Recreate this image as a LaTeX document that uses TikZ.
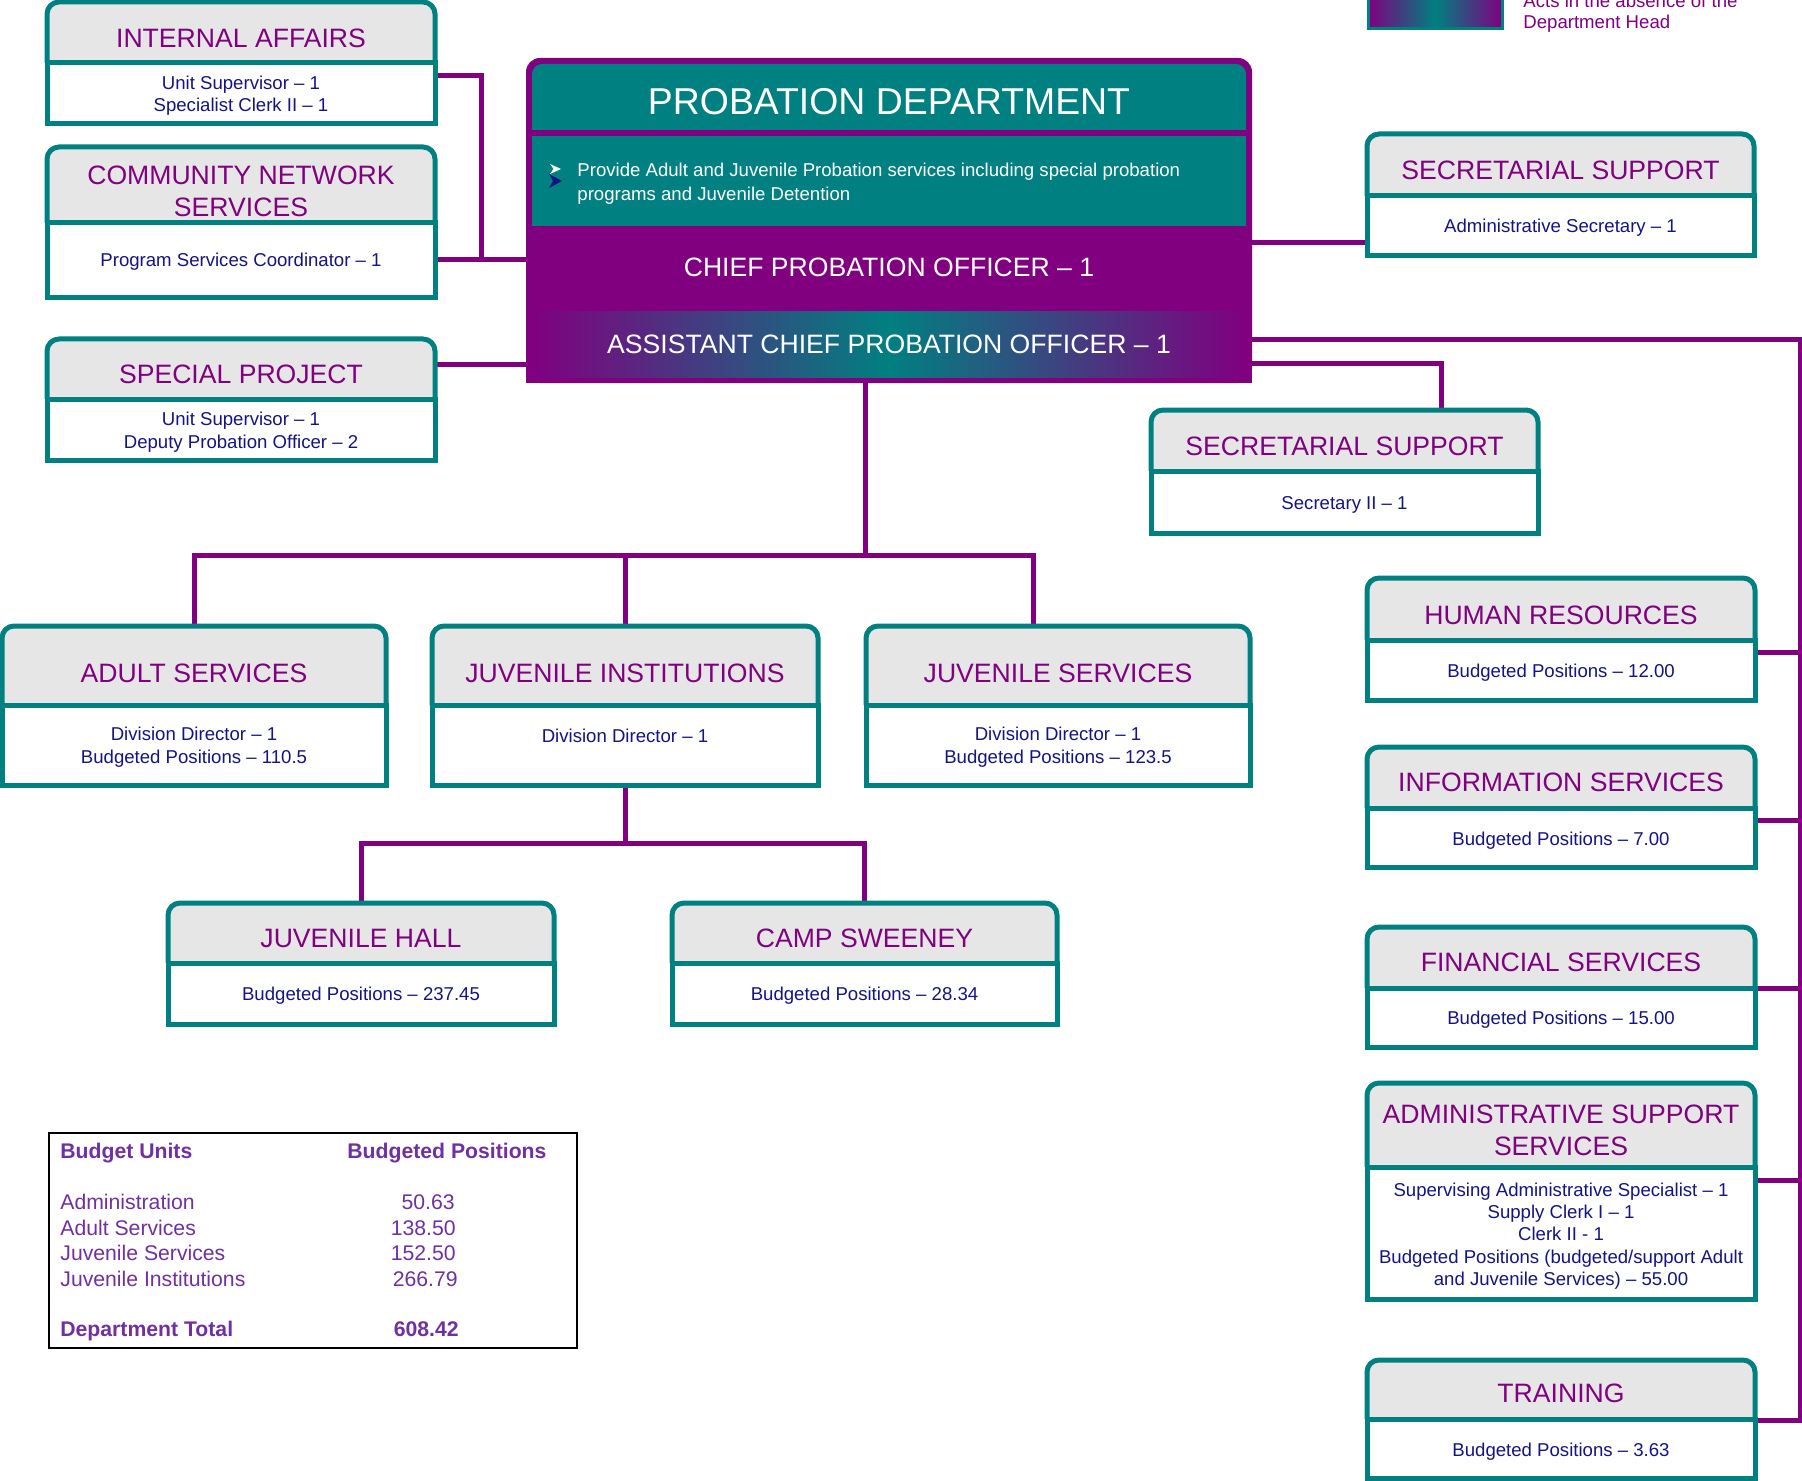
\documentclass[tikz,border=0pt]{standalone}
\usepackage{fontspec}
\setmainfont{Liberation Sans}
\usetikzlibrary{fit,backgrounds}
\definecolor{purp}{HTML}{800080}
\definecolor{tealc}{HTML}{008080}
\definecolor{hdr}{HTML}{E6E6E6}
\definecolor{navyt}{RGB}{20,20,130}
\definecolor{tblp}{HTML}{7030A0}
\tikzset{
  boxline/.style={draw=tealc, line width=2.5pt},
  conn/.style={draw=purp, line width=2.5pt},
  htext/.style={font=\fontsize{13.3}{16}\selectfont, text=purp, align=center, inner sep=0pt},
  btext/.style={font=\fontsize{9.3}{11.2}\selectfont, text=navyt, align=center, inner sep=0pt, yshift=-1.3pt},
  wtext/.style={text=white, inner sep=0pt, align=center},
  ttext/.style={font=\fontsize{10.6}{12.8}\selectfont, text=tblp, inner sep=0pt},
  tbold/.style={ttext, font=\fontsize{10.6}{12.8}\selectfont\bfseries},
  fitbox/.style={inner sep=0pt},
}
% #1 name, #2 x1, #3 x2, #4 ytop, #5 ydiv, #6 ybot
\newcommand{\obox}[6]{%
  \fill[white] (#2,#5) rectangle (#3,#6);
  \fill[hdr, rounded corners=6pt] (#2,#4) rectangle (#3,#5);
  \fill[hdr] (#2,#4+16) rectangle (#3,#5);
  \draw[boxline, rounded corners=6pt] (#2,#5) -- (#2,#4) -- (#3,#4) -- (#3,#5);
  \draw[boxline] (#2,#5) -- (#2,#6) -- (#3,#6) -- (#3,#5) -- cycle;
  \node[fitbox, fit={(#2,#4) (#3,#6)}] (#1) {};
}
\begin{document}
\begin{tikzpicture}[x=0.5pt,y=-0.5pt]
\useasboundingbox (0,0) rectangle (1802,1481);
\clip (0,0) rectangle (1802,1481);

% ---------- legend ----------
\shade[left color=purp, right color=purp, middle color=tealc] (1368,-20) rectangle (1502,29);
\draw[tealc, line width=1.5pt] (1368,-20) rectangle (1502,29);
\node[fitbox, fit={(1368,-20) (1502,29)}] (legend) {};
\node[font=\fontsize{9.3}{11}\selectfont, text=purp, anchor=west, inner sep=0pt] (leg1) at (1523,1) {Acts in the absence of the};
\node[font=\fontsize{9.3}{11}\selectfont, text=purp, anchor=west, inner sep=0pt] (leg2) at (1523,24) {Department Head};

% ---------- main box ----------
\fill[purp, rounded corners=7pt] (526,58) rectangle (1252,383);
\fill[purp] (526,200) rectangle (1252,383);
\fill[tealc, rounded corners=5pt] (532,64) rectangle (1246,130);
\fill[tealc] (532,100) rectangle (1246,130);
\fill[tealc] (532,136) rectangle (1246,226);
\shade[left color=purp, right color=purp, middle color=tealc] (532,312) rectangle (1246,377);
\node[fitbox, fit={(526,58) (1252,383)}] (main) {};

\node[wtext, font=\fontsize{18.7}{22}\selectfont] (title) at (889,102) {PROBATION DEPARTMENT};
\fill[white] (550,164) -- (561,169) -- (550,174) -- (553.5,169) -- cycle;
\fill[navyt] (549,174) -- (562,181) -- (549,188) -- (553,181) -- cycle;
\node[wtext, align=left, anchor=west, font=\fontsize{9.3}{12}\selectfont] (mission) at (577,183.5)
  {Provide Adult and Juvenile Probation services including special probation\\programs and Juvenile Detention};
\node[wtext, font=\fontsize{13.3}{16}\selectfont] (cpo) at (889,267) {CHIEF PROBATION OFFICER – 1};
\node[wtext, font=\fontsize{13.3}{16}\selectfont] (acpo) at (889,344) {ASSISTANT CHIEF PROBATION OFFICER – 1};

% ---------- left column ----------
\obox{ia}{47}{435}{2}{63}{124}
\node[htext] (ia-h) at (241,38) {INTERNAL AFFAIRS};
\node[btext] (ia-b) at (241,93) {Unit Supervisor – 1\\Specialist Clerk II – 1};

\obox{cns}{47}{435}{147}{223}{298}
\node[htext] (cns-h) at (241,191) {COMMUNITY NETWORK\\SERVICES};
\node[btext] (cns-b) at (241,259) {Program Services Coordinator – 1};

\obox{sp}{47}{435}{339}{399}{460}
\node[htext] (sp-h) at (241,374) {SPECIAL PROJECT};
\node[btext] (sp-b) at (241,429.5) {Unit Supervisor – 1\\Deputy Probation Officer – 2};

% ---------- secretarial ----------
\obox{ss1}{1367}{1754}{134}{196}{256}
\node[htext] (ss1-h) at (1560.5,170) {SECRETARIAL SUPPORT};
\node[btext] (ss1-b) at (1560.5,225) {Administrative Secretary – 1};

\obox{ss2}{1151}{1538}{410}{471}{533}
\node[htext] (ss2-h) at (1344.5,446) {SECRETARIAL SUPPORT};
\node[btext] (ss2-b) at (1344.5,502) {Secretary II – 1};

% ---------- divisions ----------
\obox{adult}{2}{386}{626}{705}{785}
\node[htext] (adult-h) at (194,673) {ADULT SERVICES};
\node[btext] (adult-b) at (194,744.5) {Division Director – 1\\Budgeted Positions – 110.5};

\obox{ji}{432}{818}{626}{705}{785}
\node[htext] (ji-h) at (625,673) {JUVENILE INSTITUTIONS};
\node[btext] (ji-b) at (625,733) {Division Director – 1};

\obox{js}{866}{1250}{626}{705}{785}
\node[htext] (js-h) at (1058,673) {JUVENILE SERVICES};
\node[btext] (js-b) at (1058,744.5) {Division Director – 1\\Budgeted Positions – 123.5};

\obox{jh}{168}{554}{903}{963}{1024}
\node[htext] (jh-h) at (361,938) {JUVENILE HALL};
\node[btext] (jh-b) at (361,993) {Budgeted Positions – 237.45};

\obox{cs}{672}{1057}{903}{963}{1024}
\node[htext] (cs-h) at (864.5,938) {CAMP SWEENEY};
\node[btext] (cs-b) at (864.5,993) {Budgeted Positions – 28.34};

% ---------- right column ----------
\obox{hr}{1367}{1755}{578}{640}{700}
\node[htext] (hr-h) at (1561,615) {HUMAN RESOURCES};
\node[btext] (hr-b) at (1561,670) {Budgeted Positions – 12.00};

\obox{is}{1367}{1755}{747}{808}{867}
\node[htext] (is-h) at (1561,782) {INFORMATION SERVICES};
\node[btext] (is-b) at (1561,838) {Budgeted Positions – 7.00};

\obox{fs}{1367}{1755}{927}{988}{1047}
\node[htext] (fs-h) at (1561,962) {FINANCIAL SERVICES};
\node[btext] (fs-b) at (1561,1017) {Budgeted Positions – 15.00};

\obox{ass}{1367}{1755}{1083}{1167}{1299}
\node[htext] (ass-h) at (1561,1130.5) {ADMINISTRATIVE SUPPORT\\SERVICES};
\node[btext] (ass-b) at (1561,1233.5) {Supervising Administrative Specialist – 1\\Supply Clerk I – 1\\Clerk II - 1\\Budgeted Positions (budgeted/support Adult\\and Juvenile Services) – 55.00};

\obox{tr}{1367}{1755}{1360}{1419}{1478}
\node[htext] (tr-h) at (1561,1393) {TRAINING};
\node[btext] (tr-b) at (1561,1449) {Budgeted Positions – 3.63};

% ---------- table ----------
\draw[black, line width=1pt] (49,1133) rectangle (577,1348);
\node[fitbox, fit={(49,1133) (577,1348)}] (tbl) {};
\node[tbold, anchor=base west] (t-h1) at (60,1158) {Budget Units};
\node[tbold, anchor=base west] (t-h2) at (347,1158) {Budgeted Positions};
\node[ttext, anchor=base west] (t-r1) at (60,1209) {Administration};
\node[ttext, anchor=base west] (t-r2) at (60,1235) {Adult Services};
\node[ttext, anchor=base west] (t-r3) at (60,1260) {Juvenile Services};
\node[ttext, anchor=base west] (t-r4) at (60,1286) {Juvenile Institutions};
\node[ttext, anchor=base east] (t-v1) at (455,1209) {50.63};
\node[ttext, anchor=base east] (t-v2) at (456,1235) {138.50};
\node[ttext, anchor=base east] (t-v3) at (456,1260) {152.50};
\node[ttext, anchor=base east] (t-v4) at (458,1286) {266.79};
\node[tbold, anchor=base west] (t-tot) at (60,1336) {Department Total};
\node[tbold, anchor=base east] (t-totv) at (459,1336) {608.42};

% ---------- connectors ----------
\coordinate (jIA) at (481,260);
\coordinate (jTop) at (1800,340);
\coordinate (jBot) at (1800,1420);
\coordinate (jMid) at (865,555);
\coordinate (jJI) at (625,843);
\begin{pgfonlayer}{background}
\draw[conn] (ia.east |- 0,76) -| (jIA);
\draw[conn] (cns.east |- 0,260) -- (main.west |- 0,260);
\draw[conn] (sp.east |- 0,364) -- (main.west |- 0,364);
\draw[conn] (main.east |- 0,243) -- (ss1.west |- 0,243);
\draw[conn] (main.east |- 0,363) -| (ss2.north -| 1441,0);
\draw[conn] (main.east |- 0,340) -- (jTop) -- (jBot) -- (tr.east |- jBot);
\draw[conn] (hr.east |- 0,652) -- (jTop |- 0,652);
\draw[conn] (is.east |- 0,820) -- (jTop |- 0,820);
\draw[conn] (fs.east |- 0,988) -- (jTop |- 0,988);
\draw[conn] (ass.east |- 0,1180) -- (jTop |- 0,1180);
\draw[conn] (main.south -| jMid) -- (jMid);
\draw[conn] (adult.north) |- (jMid);
\draw[conn] (ji.north) -- (ji.north |- jMid);
\draw[conn] (jMid) -| (js.north -| 1033,0);
\draw[conn] (ji.south) -- (jJI);
\draw[conn] (jh.north) |- (jJI) -| (cs.north);
\end{pgfonlayer}
\end{tikzpicture}
\end{document}
